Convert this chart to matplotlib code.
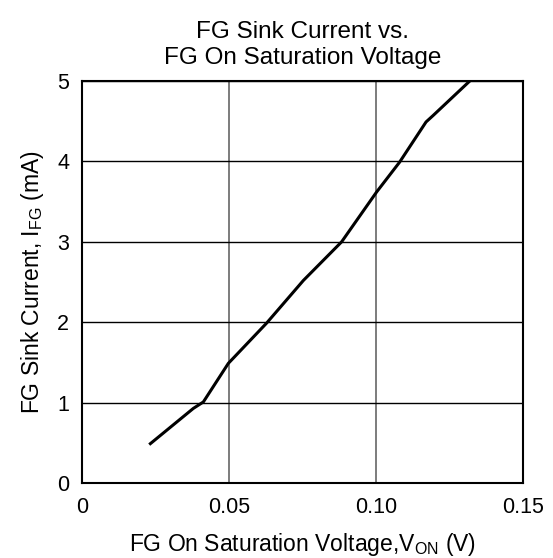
import matplotlib
matplotlib.use("Agg")
import matplotlib.pyplot as plt

plt.rcParams['font.family'] = ['Liberation Sans', 'DejaVu Sans']

# FG on saturation voltage (V) vs sink current (mA)
v_on = [0.0229, 0.0379, 0.0413, 0.0498, 0.0628, 0.0753, 0.0883, 0.1002, 0.108, 0.117, 0.1194, 0.1319]
i_fg = [0.48, 0.93, 1.01, 1.49, 1.99, 2.52, 3.0, 3.62, 3.99, 4.49, 4.57, 5.0]

x_ticks = [0, 0.05, 0.10, 0.15]
x_labels = ["0", "0.05", "0.10", "0.15"]
y_ticks = [0, 1, 2, 3, 4, 5]

fig = plt.figure(figsize=(5.53, 5.58), dpi=100)
ax = fig.add_axes([0.148, 0.134, 0.798, 0.721])

ax.plot(v_on, i_fg, color='black', lw=2.2, solid_capstyle='butt')

ax.set_xlim(0, 0.15)
ax.set_ylim(0, 5)
ax.set_xticks(x_ticks)
ax.set_xticklabels(x_labels)
ax.set_yticks(y_ticks)
ax.tick_params(length=0, labelsize=15.5)
ax.tick_params(axis='x', pad=10)
ax.tick_params(axis='y', pad=9)
ax.xaxis.grid(True, color='#666666', lw=1.2)
ax.yaxis.grid(True, color='black', lw=1.0)
for s in ax.spines.values():
    s.set_linewidth(1.5)

ax.set_title('FG Sink Current vs.\nFG On Saturation Voltage', fontsize=17.5, pad=12, linespacing=1.25)
ax.set_xlabel(r'FG On Saturation Voltage,V$_\mathregular{ON}$ (V)', fontsize=16.5, labelpad=9)
ax.set_ylabel(r'FG Sink Current, I$_\mathregular{FG}$ (mA)', fontsize=16.5, labelpad=8)

fig.savefig('out.png', dpi=100)
